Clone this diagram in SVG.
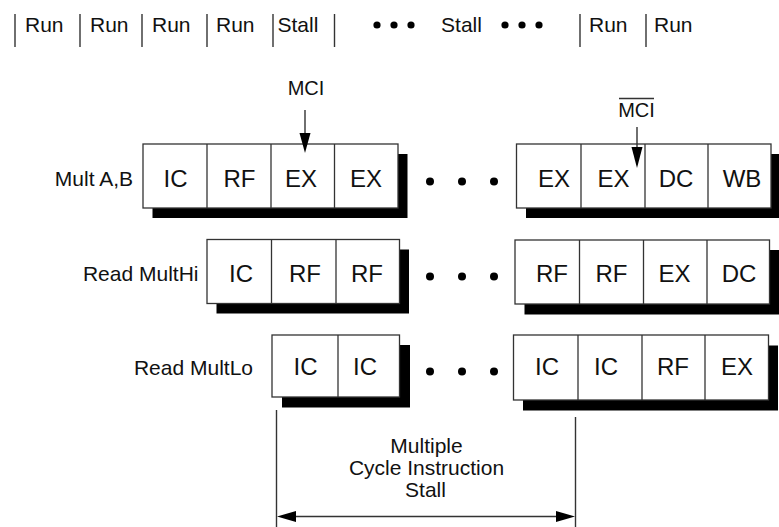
<svg xmlns="http://www.w3.org/2000/svg" width="779" height="527" viewBox="0 0 779 527">
<style>
text{font-family:"Liberation Sans",Arial,Helvetica,sans-serif;fill:#111}
.lbl{font-size:21px}
.cell{font-size:24px;text-anchor:middle}
.mid{text-anchor:middle}
.end{text-anchor:end}
.box{fill:#fff;stroke:#333;stroke-width:1.3}
.sh{fill:#000}
.div{stroke:#333;stroke-width:1.3}
.ln{stroke:#333;stroke-width:1.4;fill:none}
.dot{fill:#000}
.head{fill:#000}
</style>
<rect width="779" height="527" fill="#fff"/>

<g id="timeline">
  <g class="ln">
    <line x1="15" y1="14" x2="15" y2="47"/>
    <line x1="80" y1="14" x2="80" y2="47"/>
    <line x1="142" y1="14" x2="142" y2="47"/>
    <line x1="207" y1="14" x2="207" y2="47"/>
    <line x1="273" y1="14" x2="273" y2="47"/>
    <line x1="334.5" y1="14" x2="334.5" y2="47"/>
    <line x1="580" y1="14" x2="580" y2="47"/>
    <line x1="646" y1="14" x2="646" y2="47"/>
  </g>
  <text class="lbl" x="25" y="32">Run</text>
  <text class="lbl" x="90" y="32">Run</text>
  <text class="lbl" x="152" y="32">Run</text>
  <text class="lbl" x="216" y="32">Run</text>
  <text class="lbl" x="277.5" y="32">Stall</text>
  <text class="lbl mid" x="461.5" y="32">Stall</text>
  <text class="lbl" x="589" y="32">Run</text>
  <text class="lbl" x="654" y="32">Run</text>
  <circle class="dot" cx="377" cy="25" r="3.6"/>
  <circle class="dot" cx="394" cy="25" r="3.6"/>
  <circle class="dot" cx="411" cy="25" r="3.6"/>
  <circle class="dot" cx="505" cy="25" r="3.6"/>
  <circle class="dot" cx="522" cy="25" r="3.6"/>
  <circle class="dot" cx="539" cy="25" r="3.6"/>
</g>

<g id="label-mult"><text class="lbl end" x="133" y="186">Mult A,B</text></g>
<g id="label-multhi"><text class="lbl end" x="198.5" y="281">Read MultHi</text></g>
<g id="label-multlo"><text class="lbl end" x="253" y="375">Read MultLo</text></g>

<g id="mult-left">
  <rect class="sh" x="152.5" y="154" width="255" height="64"/>
  <rect class="box" x="143" y="144" width="255" height="64"/>
  <line class="div" x1="207" y1="144" x2="207" y2="208"/>
  <line class="div" x1="271" y1="144" x2="271" y2="208"/>
  <line class="div" x1="334.5" y1="144" x2="334.5" y2="208"/>
  <text class="cell" x="175.5" y="186.5">IC</text>
  <text class="cell" x="239.5" y="186.5">RF</text>
  <text class="cell" x="301" y="186.5">EX</text>
  <text class="cell" x="366" y="186.5">EX</text>
</g>
<g id="mult-dots">
  <circle class="dot" cx="430" cy="181.5" r="4"/>
  <circle class="dot" cx="462" cy="181.5" r="4"/>
  <circle class="dot" cx="494" cy="181.5" r="4"/>
</g>
<g id="mult-right">
  <rect class="sh" x="526" y="154" width="254.5" height="64"/>
  <rect class="box" x="516.5" y="144" width="254.5" height="64"/>
  <line class="div" x1="581" y1="144" x2="581" y2="208"/>
  <line class="div" x1="645" y1="144" x2="645" y2="208"/>
  <line class="div" x1="708" y1="144" x2="708" y2="208"/>
  <text class="cell" x="554" y="186.5">EX</text>
  <text class="cell" x="613.5" y="186.5">EX</text>
  <text class="cell" x="676" y="186.5">DC</text>
  <text class="cell" x="742" y="186.5">WB</text>
</g>

<g id="multhi-left">
  <rect class="sh" x="216.5" y="249.5" width="192.5" height="64"/>
  <rect class="box" x="207" y="239.5" width="192.5" height="64"/>
  <line class="div" x1="271.5" y1="239.5" x2="271.5" y2="303.5"/>
  <line class="div" x1="336" y1="239.5" x2="336" y2="303.5"/>
  <text class="cell" x="241" y="281.5">IC</text>
  <text class="cell" x="305" y="281.5">RF</text>
  <text class="cell" x="367" y="281.5">RF</text>
</g>
<g id="multhi-dots">
  <circle class="dot" cx="430" cy="276.5" r="4"/>
  <circle class="dot" cx="462" cy="276.5" r="4"/>
  <circle class="dot" cx="494" cy="276.5" r="4"/>
</g>
<g id="multhi-right">
  <rect class="sh" x="524.5" y="250" width="254.5" height="64.5"/>
  <rect class="box" x="515" y="240" width="254.5" height="64"/>
  <line class="div" x1="579.5" y1="240" x2="579.5" y2="304"/>
  <line class="div" x1="643.5" y1="240" x2="643.5" y2="304"/>
  <line class="div" x1="707" y1="240" x2="707" y2="304"/>
  <text class="cell" x="552" y="281.5">RF</text>
  <text class="cell" x="611.5" y="281.5">RF</text>
  <text class="cell" x="674.5" y="281.5">EX</text>
  <text class="cell" x="739" y="281.5">DC</text>
</g>

<g id="multlo-left">
  <rect class="sh" x="282" y="345" width="128" height="62.5"/>
  <rect class="box" x="272" y="335" width="127.5" height="62"/>
  <line class="div" x1="338" y1="335" x2="338" y2="397"/>
  <text class="cell" x="305.5" y="375">IC</text>
  <text class="cell" x="365" y="375">IC</text>
</g>
<g id="multlo-dots">
  <circle class="dot" cx="430" cy="371.5" r="4"/>
  <circle class="dot" cx="462" cy="371.5" r="4"/>
  <circle class="dot" cx="494" cy="371.5" r="4"/>
</g>
<g id="multlo-right">
  <rect class="sh" x="523" y="345.5" width="255" height="65"/>
  <rect class="box" x="513.5" y="335" width="255" height="65"/>
  <line class="div" x1="578" y1="335" x2="578" y2="400"/>
  <line class="div" x1="642" y1="335" x2="642" y2="400"/>
  <line class="div" x1="705" y1="335" x2="705" y2="400"/>
  <text class="cell" x="547" y="375">IC</text>
  <text class="cell" x="606" y="375">IC</text>
  <text class="cell" x="673" y="375">RF</text>
  <text class="cell" x="737" y="375">EX</text>
</g>

<g id="mci-label"><text class="mid" x="306" y="95" style="font-size:20px">MCI</text></g>
<g id="mcibar-label">
  <text class="mid" x="636.5" y="116.5" style="font-size:20px">MCI</text>
  <line class="ln" x1="619" y1="98.5" x2="654" y2="98.5" style="stroke-width:1.3"/>
</g>
<g id="stall-label">
  <text class="lbl mid" x="426.5" y="453">Multiple</text>
  <text class="lbl mid" x="426.5" y="475">Cycle Instruction</text>
  <text class="lbl mid" x="425.5" y="496.5">Stall</text>
</g>

<g id="connectors">
  <line class="ln" x1="305" y1="110" x2="305" y2="136"/>
  <polygon class="head" points="299.5,133 310.5,133 305,153"/>
  <line class="ln" x1="637" y1="127" x2="637" y2="150"/>
  <polygon class="head" points="631.5,147 642.5,147 637,168"/>
  <line class="ln" x1="276.5" y1="410" x2="276.5" y2="527"/>
  <line class="ln" x1="575.5" y1="417" x2="575.5" y2="527"/>
  <line class="ln" x1="292" y1="516.5" x2="560" y2="516.5"/>
  <polygon class="head" points="277,516.5 296,511 296,522"/>
  <polygon class="head" points="575,516.5 556,511 556,522"/>
</g>
</svg>
